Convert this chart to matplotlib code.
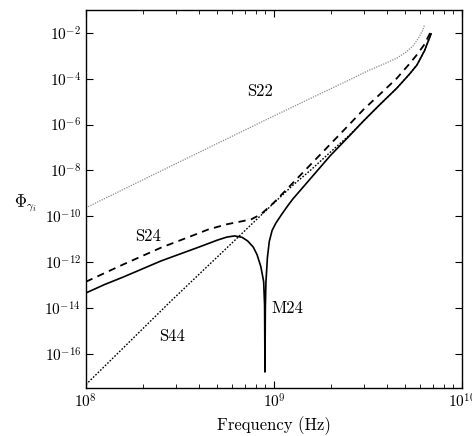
import numpy as np
import matplotlib.pyplot as plt
from matplotlib.ticker import FixedLocator, FuncFormatter, LogLocator, NullLocator

plt.rcParams['mathtext.fontset'] = 'cm'
plt.rcParams['font.family'] = ['DejaVu Serif']

# values, as log10(frequency) and log10(Phi)
s22_logf = [8.0, 8.5, 9.0, 9.298, 9.4, 9.5, 9.6, 9.653, 9.70, 9.741, 9.77, 9.79, 9.80]
s22_logv = [-9.63, -7.62, -5.62, -4.45, -4.05, -3.65, -3.3, -3.1, -2.85, -2.55,
            -2.2, -1.9, -1.65]

s24_logf = [8.0, 8.2, 8.4, 8.55, 8.65, 8.75, 8.83, 8.88, 8.93, 9.0, 9.1, 9.2,
            9.3, 9.4, 9.475, 9.56, 9.653, 9.72, 9.759, 9.80, 9.83]
s24_logv = [-12.86, -12.1, -11.37, -10.9, -10.58, -10.35, -10.22, -10.13, -9.92,
            -9.4, -8.55, -7.7, -6.85, -6.0, -5.35, -4.7, -3.98, -3.35, -2.96,
            -2.5, -2.0]

s44_logf = [8.0, 8.46, 8.82, 8.9, 9.0, 9.1, 9.2, 9.3, 9.4, 9.475, 9.56, 9.653,
            9.72, 9.76, 9.80, 9.835]
s44_logv = [-17.35, -13.64, -10.83, -10.2, -9.42, -8.65, -7.95, -7.2, -6.47,
            -5.85, -5.15, -4.41, -3.8, -3.4, -2.78, -2.04]

m24_logf = [8.0, 8.1, 8.2, 8.3, 8.4, 8.5, 8.6, 8.7, 8.75, 8.79, 8.83, 8.86,
            8.89, 8.91, 8.93, 8.945, 8.950, 8.952, 8.954, 8.957, 8.965, 8.975,
            8.99, 9.01, 9.04, 9.07, 9.1, 9.2, 9.3, 9.4, 9.475, 9.56, 9.653, 9.72,
            9.76, 9.80, 9.835]
m24_logv = [-13.35, -12.98, -12.65, -12.3, -11.95, -11.65, -11.35, -11.04,
            -10.91, -10.86, -10.92, -11.08, -11.35, -11.68, -12.2, -12.85, -13.9,
            -16.8, -14.0, -12.9, -11.8, -11.1, -10.62, -10.3, -9.93, -9.58,
            -9.25, -8.3, -7.35, -6.5, -5.85, -5.15, -4.41, -3.8, -3.4, -2.78,
            -2.04]

def to_lin(logs):
    return 10.0 ** np.array(logs)

fig = plt.figure(figsize=(4.72, 4.36), dpi=100)
ax = fig.add_axes([0.182, 0.110, 0.797, 0.867])

ax.plot(to_lin(s22_logf), to_lin(s22_logv), color='#8a8a8a', lw=0.9, ls=(0, (1, 1)))
ax.plot(to_lin(s44_logf), to_lin(s44_logv), color='black', lw=1.0, ls=(0, (1.2, 1.2)))
ax.plot(to_lin(s24_logf), to_lin(s24_logv), color='black', lw=1.3, ls=(0, (4, 3)))
ax.plot(to_lin(m24_logf), to_lin(m24_logv), color='black', lw=1.2)

ax.set_xscale('log')
ax.set_yscale('log')
ax.set_xlim(1e8, 1e10)
ax.set_ylim(10 ** -17.5, 1e-1)

ax.yaxis.set_major_locator(FixedLocator([10.0 ** k for k in range(-16, 0, 2)]))
ax.yaxis.set_minor_locator(NullLocator())
ax.xaxis.set_minor_locator(LogLocator(base=10, subs=np.arange(2, 10)))
fmt = FuncFormatter(lambda v, p: r'$10^{%d}$' % round(np.log10(v)))
ax.xaxis.set_major_formatter(fmt)
ax.yaxis.set_major_formatter(fmt)
ax.tick_params(which='both', direction='in', top=True, right=True, labelsize=11)
ax.tick_params(which='major', length=5)
ax.tick_params(which='minor', length=3)
for s in ax.spines.values():
    s.set_linewidth(1.0)

ax.set_xlabel('Frequency (Hz)', fontsize=12, family='cmr10')
fig.text(0.055, 0.535, r'$\Phi_{\gamma_i}$', fontsize=12, ha='center', va='center')

lab = dict(fontsize=12, ha='center', va='center', family='cmr10')
ax.text(10 ** 8.926, 10 ** -4.57, 'S22', **lab)
ax.text(10 ** 8.33, 10 ** -10.9, 'S24', **lab)
ax.text(10 ** 8.457, 10 ** -15.26, 'S44', **lab)
ax.text(10 ** 9.074, 10 ** -14.0, 'M24', **lab)

fig.savefig('out.png', dpi=100)
